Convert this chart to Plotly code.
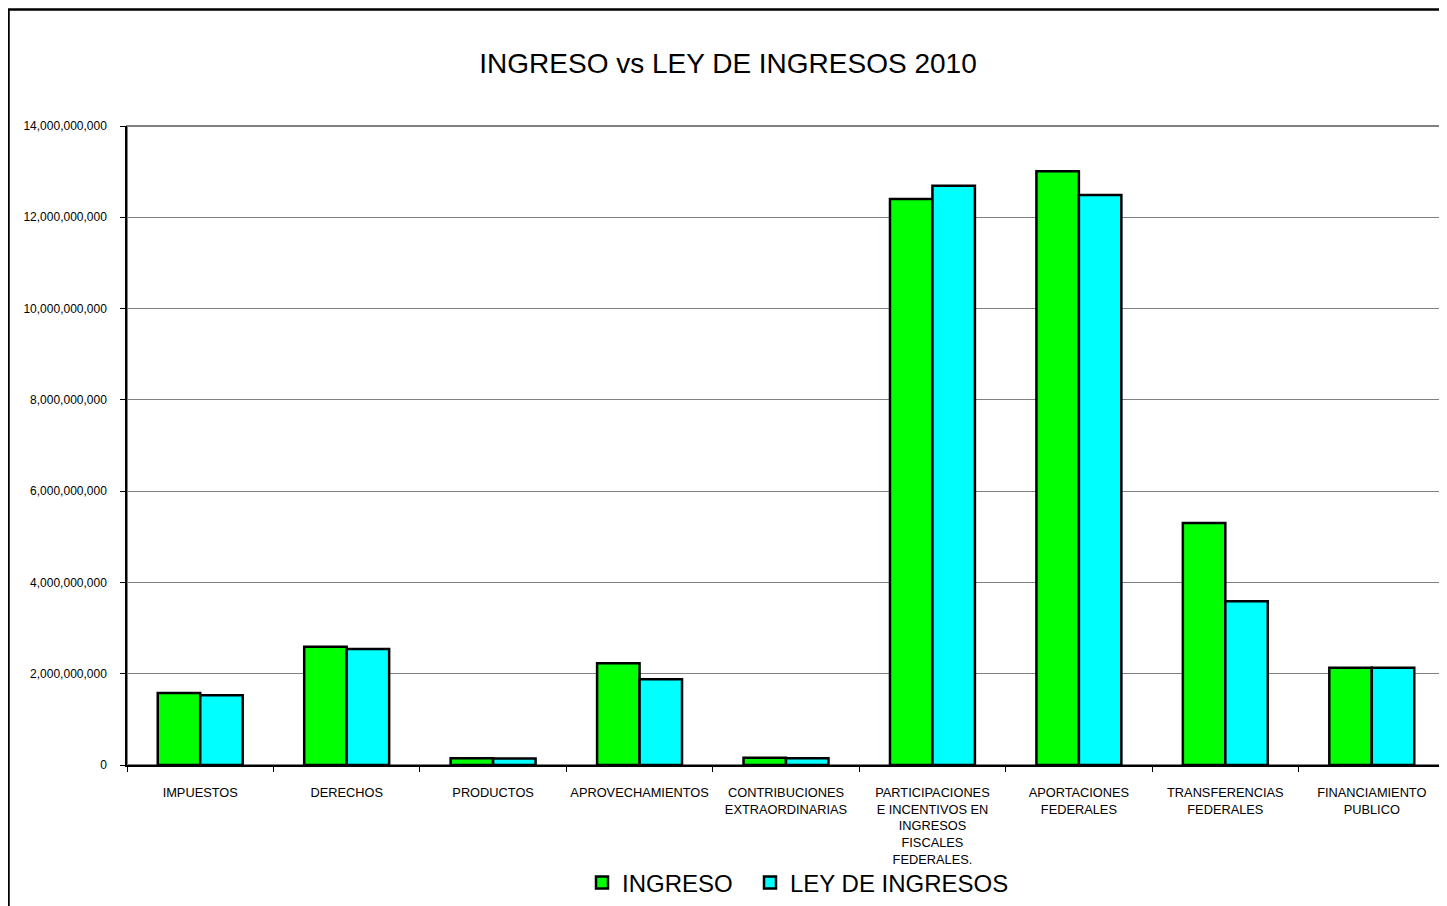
import plotly.graph_objects as go

categories = [
    "IMPUESTOS",
    "DERECHOS",
    "PRODUCTOS",
    "APROVECHAMIENTOS",
    "CONTRIBUCIONES<br>EXTRAORDINARIAS",
    "PARTICIPACIONES<br>E INCENTIVOS EN<br>INGRESOS<br>FISCALES<br>FEDERALES.",
    "APORTACIONES<br>FEDERALES",
    "TRANSFERENCIAS<br>FEDERALES",
    "FINANCIAMIENTO<br>PUBLICO",
]
ingreso = [1.58e9, 2.59e9, 0.15e9, 2.23e9, 0.16e9, 12.40e9, 13.01e9, 5.30e9, 2.13e9]
ley_ingresos = [1.53e9, 2.54e9, 0.14e9, 1.88e9, 0.15e9, 12.69e9, 12.49e9, 3.59e9, 2.13e9]
y_ticks = [0, 2e9, 4e9, 6e9, 8e9, 10e9, 12e9, 14e9]
y_tick_labels = ["0", "2,000,000,000", "4,000,000,000", "6,000,000,000", "8,000,000,000",
                 "10,000,000,000", "12,000,000,000", "14,000,000,000"]

FONT = "Liberation Sans, Arial, sans-serif"

fig = go.Figure()
fig.add_trace(go.Bar(name="INGRESO", x=categories, y=ingreso, legend="legend",
                     marker=dict(color="#00FF00", line=dict(color="black", width=2.5))))
fig.add_trace(go.Bar(name="LEY DE INGRESOS", x=categories, y=ley_ingresos, legend="legend2",
                     marker=dict(color="#00FFFF", line=dict(color="black", width=2.5))))

OFF = 8  # page body margin
W, H = 1447 - OFF, 906 - OFF
L, T = 127 - OFF, 126 - OFF
R = W - (1445 - OFF)
B = H - (765 - OFF)
pw, ph = W - L - R, H - T - B

def px(x):
    return (x - OFF - L) / pw

def py(y):
    return (H - B - (y - OFF)) / ph

legend_common = dict(orientation="h", xanchor="left", yanchor="middle", y=py(883),
                     font=dict(size=24, family=FONT), itemwidth=30,
                     bgcolor="rgba(0,0,0,0)", borderwidth=0)

fig.update_layout(
    width=W, height=H,
    margin=dict(l=L, r=R, t=T, b=B, autoexpand=False),
    paper_bgcolor="white", plot_bgcolor="white",
    font=dict(family=FONT, color="black"),
    barmode="group", bargap=0.42, bargroupgap=0,
    title=dict(text="INGRESO vs LEY DE INGRESOS 2010", x=(728 - OFF) / W, xref="container",
               xanchor="center", y=1 - (63 - OFF) / H, yanchor="middle",
               font=dict(size=28, family=FONT)),
    showlegend=True,
    legend=dict(x=px(582), **legend_common),
    legend2=dict(x=px(750), **legend_common),
    xaxis=dict(showline=True, linecolor="black", linewidth=1.5, ticks="outside",
               tickson="boundaries", ticklen=5, tickcolor="black",
               tickfont=dict(size=12.8, family=FONT), tickangle=0,
               ticklabelstandoff=15, showgrid=False),
    yaxis=dict(range=[0, 14e9], tickvals=y_ticks, ticktext=y_tick_labels,
               showline=True, linecolor="black", linewidth=1.5, ticks="outside",
               ticklen=5, tickcolor="black", tickfont=dict(size=12, family=FONT),
               ticklabelstandoff=11, showgrid=True, gridcolor="#808080", gridwidth=1,
               zeroline=False),
    shapes=[
        dict(type="rect", xref="paper", yref="paper", x0=0, y0=0, x1=1, y1=1,
             line=dict(color="#808080", width=2), layer="below"),
        dict(type="rect", xref="paper", yref="paper", x0=px(8.5), y0=py(9.5), x1=px(1470), y1=py(930),
             line=dict(color="black", width=2.5), layer="above"),
    ],
)

fig.write_html("out.html")
